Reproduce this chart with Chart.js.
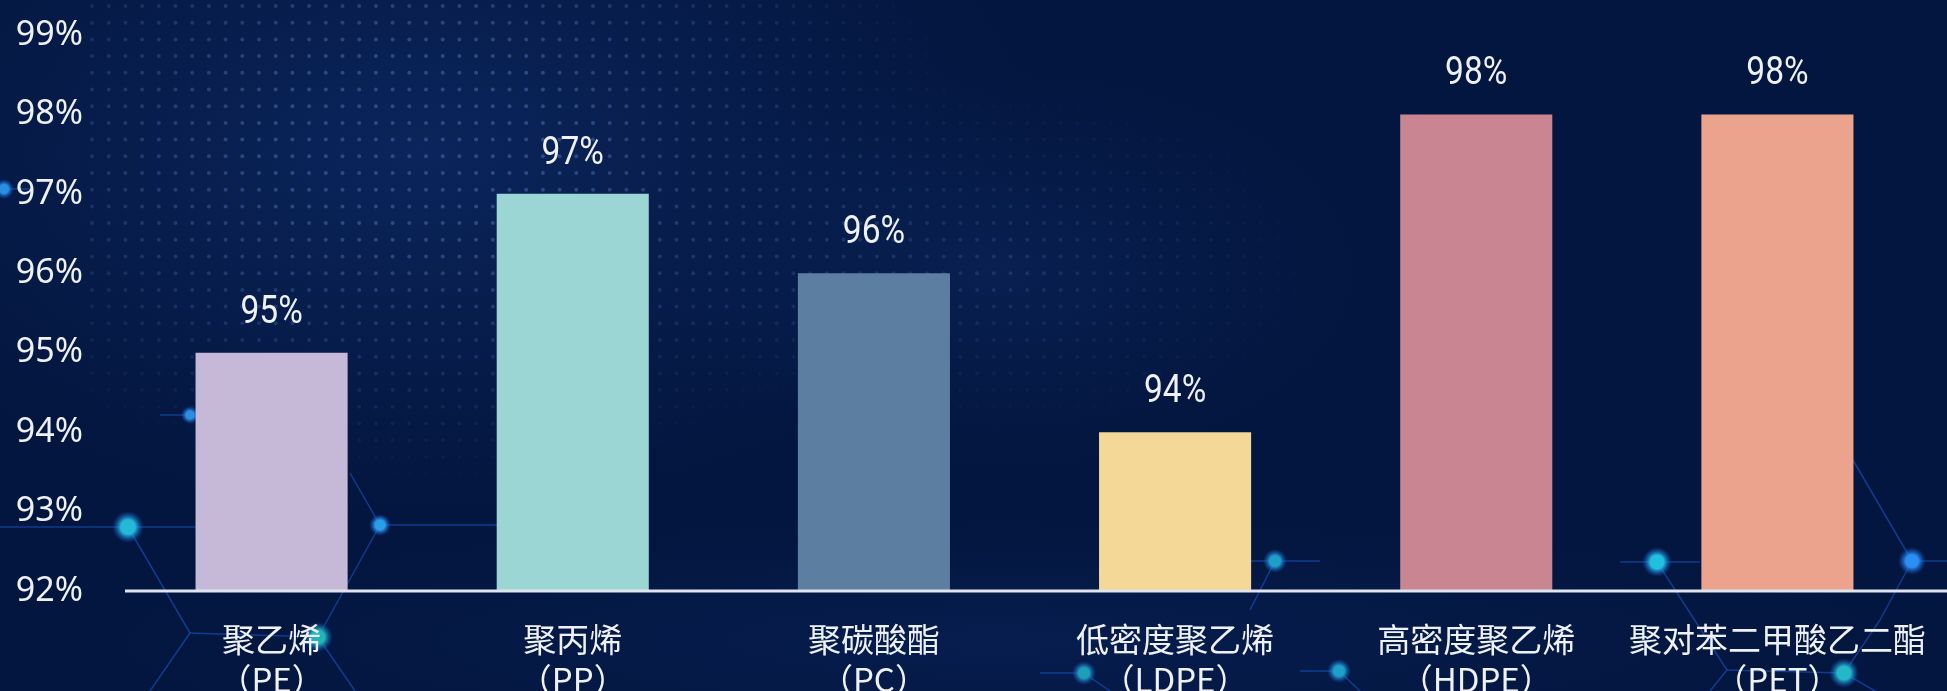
<!DOCTYPE html>
<html lang="zh-CN">
<head>
<meta charset="utf-8">
<title>塑料回收率</title>
<script src="https://cdn.jsdelivr.net/npm/chart.js@4.4.1/dist/chart.umd.min.js"></script>
<style>
  html, body { margin: 0; padding: 0; background: #03163f; overflow: hidden; }
  #wrap { width: 1947px; height: 691px; position: relative; }
</style>
</head>
<body>
<div id="wrap"><canvas id="chart" width="1947" height="691"></canvas></div>
<script>
// Plastic types (name + abbreviation on a second line)
const names = ['聚乙烯', '聚丙烯', '聚碳酸酯', '低密度聚乙烯', '高密度聚乙烯', '聚对苯二甲酸乙二酯'];
const abbrs = ['（PE）', '（PP）', '（PC）', '（LDPE）', '（HDPE）', '（PET）'];
// Percentages shown above each bar
const values = [95, 97, 96, 94, 98, 98];
// Axis range and tick labels
const yMin = 92;
const yMax = 99;
const yTickLabels = ['92%', '93%', '94%', '95%', '96%', '97%', '98%', '99%'];
// One fill colour per bar
const barColors = ['#c6b8d7', '#9bd6d5', '#5c7fa1', '#f3d897', '#c98592', '#eca38e'];

const categories = names.map((n, i) => [n, abbrs[i]]);

// Dark tech-style backdrop: dot grid and a faint node network
const backdrop = {
  id: 'backdrop',
  beforeDraw(chart) {
    const ctx = chart.ctx;
    const W = chart.width, H = chart.height;
    ctx.save();
    ctx.fillStyle = '#03163f';
    ctx.fillRect(0, 0, W, H);

    // lighter haze behind the dot field
    const haze = (cx, cy, rx, ry, col) => {
      ctx.save();
      ctx.translate(cx, cy);
      ctx.scale(rx / ry, 1);
      const rg = ctx.createRadialGradient(0, 0, 0, 0, 0, ry);
      rg.addColorStop(0, col);
      rg.addColorStop(1, 'rgba(10,34,86,0)');
      ctx.fillStyle = rg;
      ctx.fillRect(-ry, -ry, ry * 2, ry * 2);
      ctx.restore();
    };
    haze(420, 150, 620, 360, 'rgba(12,38,92,0.95)');
    haze(1000, 270, 360, 200, 'rgba(12,38,92,0.6)');
    haze(1000, 640, 900, 120, 'rgba(10,36,95,0.5)');

    // dot field, strongest in the upper left
    const step = 16.7;
    for (let y = 6; y < 480; y += step) {
      for (let x = 92; x < 1400; x += step) {
        const d1 = Math.hypot((x - 420) / 560, (y - 140) / 350);
        const d2 = Math.hypot((x - 1000) / 330, (y - 260) / 180);
        const a = Math.min(0.55, Math.max(0, 1 - d1) * 0.75) + Math.max(0, 1 - d2) * 0.3;
        if (a <= 0.02) continue;
        ctx.fillStyle = 'rgba(70,110,180,' + a.toFixed(3) + ')';
        ctx.beginPath();
        ctx.arc(x, y, 2, 0, Math.PI * 2);
        ctx.fill();
      }
    }

    // network lines
    const segs = [
      [0, 189, 30, 189],
      [0, 527, 128, 527], [128, 527, 200, 527],
      [128, 527, 190, 633], [190, 633, 318, 637], [190, 633, 150, 691],
      [318, 637, 380, 525], [318, 637, 355, 691],
      [380, 525, 500, 525], [380, 525, 350, 473],
      [190, 415, 160, 415],
      [1230, 561, 1320, 561], [1275, 561, 1250, 610],
      [1040, 673, 1084, 673], [1084, 673, 1110, 691],
      [1300, 671, 1339, 671], [1339, 671, 1360, 691],
      [1620, 562, 1700, 562], [1657, 562, 1727, 670],
      [1727, 670, 1844, 673], [1727, 670, 1710, 691],
      [1850, 455, 1912, 561], [1912, 561, 1947, 561],
      [1912, 561, 1880, 620], [1880, 620, 1844, 673], [1844, 673, 1875, 691]
    ];
    ctx.strokeStyle = 'rgba(30,95,225,0.5)';
    ctx.lineWidth = 1.5;
    segs.forEach(s => {
      ctx.beginPath();
      ctx.moveTo(s[0], s[1]);
      ctx.lineTo(s[2], s[3]);
      ctx.stroke();
    });

    // glowing nodes: x, y, radius, core colour
    const nodes = [
      [4, 189, 10, '#2a8fe0'], [190, 415, 9, '#2a8fe0'], [128, 527, 16, '#25b8d8'],
      [380, 525, 11, '#2a9fe8'], [318, 637, 15, '#22b5b8'],
      [1275, 561, 12, '#1e9fc8'], [1657, 562, 15, '#22c0e0'], [1912, 561, 14, '#2a8ff0'],
      [1084, 673, 12, '#1e9fb8'], [1339, 671, 12, '#1e9fc8'], [1844, 673, 15, '#22b8c8']
    ];
    nodes.forEach(n => {
      const rg = ctx.createRadialGradient(n[0], n[1], 0, n[0], n[1], n[2]);
      rg.addColorStop(0, n[3]);
      rg.addColorStop(0.45, n[3]);
      rg.addColorStop(1, 'rgba(20,80,200,0)');
      ctx.fillStyle = rg;
      ctx.beginPath();
      ctx.arc(n[0], n[1], n[2], 0, Math.PI * 2);
      ctx.fill();
    });
    ctx.restore();
  }
};

// Baseline under the bars and the value labels above them
const overlay = {
  id: 'overlay',
  afterDatasetsDraw(chart) {
    const ctx = chart.ctx;
    const y0 = chart.scales.y.getPixelForValue(yMin);
    ctx.save();
    ctx.strokeStyle = '#dfe4ee';
    ctx.lineWidth = 3;
    ctx.beginPath();
    ctx.moveTo(chart.chartArea.left + 4, y0);
    ctx.lineTo(chart.width, y0);
    ctx.stroke();

    const meta = chart.getDatasetMeta(0);
    ctx.fillStyle = '#eef1f7';
    ctx.font = '39px Roboto';
    ctx.textAlign = 'center';
    ctx.textBaseline = 'alphabetic';
    meta.data.forEach((bar, i) => {
      ctx.save();
      ctx.translate(bar.x, bar.y - 30);
      ctx.scale(0.86, 1);
      ctx.fillText(values[i] + '%', 0, 0);
      ctx.restore();
    });
    ctx.restore();
  }
};

new Chart(document.getElementById('chart'), {
  type: 'bar',
  data: {
    labels: categories,
    datasets: [{
      data: values,
      backgroundColor: barColors,
      borderWidth: 0,
      categoryPercentage: 1,
      barPercentage: 0.505
    }]
  },
  options: {
    responsive: false,
    animation: false,
    devicePixelRatio: 1,
    layout: { padding: { top: 35, right: 19, bottom: 0, left: 0 } },
    plugins: { legend: { display: false }, tooltip: { enabled: false } },
    scales: {
      x: {
        grid: { display: false, drawTicks: false },
        border: { display: false },
        ticks: {
          color: '#eef1f7',
          font: { family: '"Noto Sans CJK SC", sans-serif', size: 33 },
          padding: 29,
          maxRotation: 0,
          autoSkip: false
        },
        afterFit(scale) {
          scale.height = 100;
          scale.paddingLeft = 0;
          scale.paddingRight = 0;
        }
      },
      y: {
        min: yMin,
        max: yMax,
        grid: { display: false, drawTicks: false },
        border: { display: false },
        ticks: {
          stepSize: 1,
          color: '#eef1f7',
          font: { family: '"Noto Sans", sans-serif', size: 34 },
          padding: 38,
          callback: (v) => yTickLabels[Math.round(v - yMin)]
        },
        afterFit(scale) {
          scale.width = 121;
          scale.paddingTop = 0;
          scale.paddingBottom = 0;
        }
      }
    }
  },
  plugins: [backdrop, overlay]
});
</script>
</body>
</html>
